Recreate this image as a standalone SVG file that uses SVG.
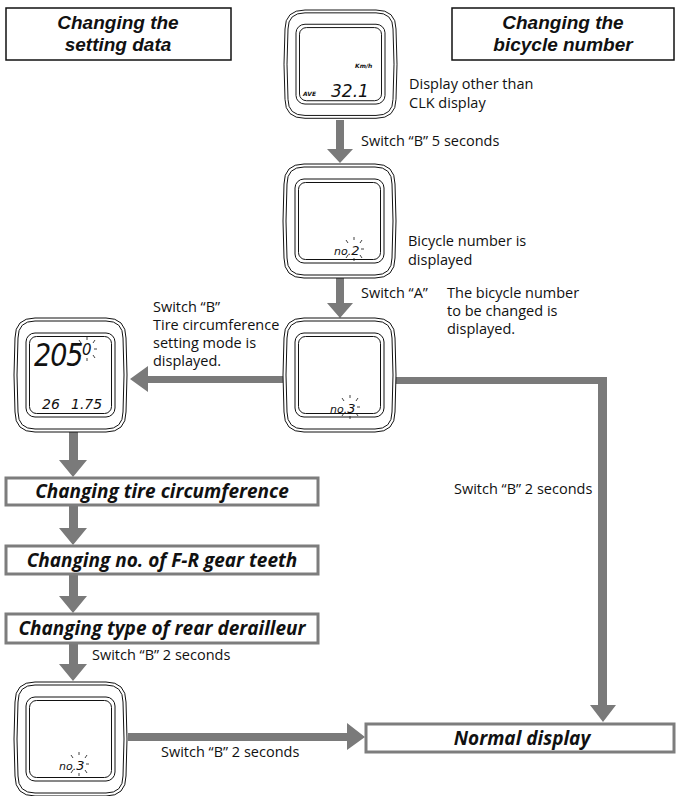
<svg xmlns="http://www.w3.org/2000/svg" width="676" height="796" viewBox="0 0 676 796">
<style>
.bg{fill:#fff}
.t{font-family:"Open Sans","Noto Sans","DejaVu Sans",sans-serif;font-size:14.5px;fill:#111}
.h{font-family:"Open Sans","Noto Sans","DejaVu Sans",sans-serif;font-size:19px;font-weight:bold;font-style:italic;fill:#111;text-anchor:middle}
.hh{font-family:"Liberation Sans",Arial,sans-serif;font-size:19px}
.hb{fill:#fff;stroke:#111;stroke-width:1.5}
.fb{fill:#fff;stroke:#7d7d7d;stroke-width:3}
.dev{fill:#fff;stroke:#111;stroke-width:1}
.devn{fill:none;stroke:#111;stroke-width:1}
.lcd{font-family:"DejaVu Sans","Liberation Sans",sans-serif;font-style:italic;fill:#111}
.ray{stroke:#111;stroke-width:0.8}
.arr{fill:#7a7a7a}
</style>
<defs>
<g id="frame">
<path class="dev" d="M20,0 H91 Q111,0 111,20 Q113,57 111,94 Q111,114 91,114 H20 Q0,114 0,94 Q-2,57 0,20 Q0,0 20,0 Z"/>
<path class="devn" d="M20,3 H91 Q108,3 108,20 Q110,57 108,94 Q108,111 91,111 H20 Q3,111 3,94 Q1,57 3,20 Q3,3 20,3 Z"/>
<rect class="devn" x="11" y="15" width="89" height="84" rx="9"/>
<rect class="devn" x="14.5" y="18.5" width="82" height="77" rx="7"/>
</g>
<g id="rays">
<line class="ray" x1="0" y1="-9" x2="0" y2="-12"/>
<line class="ray" x1="6" y1="-6" x2="8" y2="-9"/>
<line class="ray" x1="-6" y1="-6" x2="-8" y2="-9"/>
<line class="ray" x1="7" y1="0" x2="10" y2="0"/>
<line class="ray" x1="6" y1="6" x2="8" y2="9"/>
<line class="ray" x1="-6" y1="6" x2="-8" y2="9"/>
<line class="ray" x1="0" y1="9" x2="0" y2="12"/>
</g>
</defs>
<rect class="bg" x="0" y="0" width="676" height="796"/>

<g id="hdr-left">
<rect class="hb" x="6" y="8" width="225" height="52"/>
<text class="h hh" x="118" y="29">Changing the<tspan x="118" dy="22">setting data</tspan></text>
</g>
<g id="hdr-right">
<rect class="hb" x="452" y="8" width="222" height="52"/>
<text class="h hh" x="563" y="29">Changing the<tspan x="563" dy="22">bicycle number</tspan></text>
</g>

<g id="connectors">
<polygon class="arr" points="336,120 344,120 344,149 353,149 340,163 327,149 336,149"/>
<polygon class="arr" points="336,278 344,278 344,303 353,303 340,318 327,303 336,303"/>
<polygon class="arr" points="283,376 148,376 148,366 130,379 148,392 148,383 283,383"/>
<polygon class="arr" points="395,377 607,377 607,705 616,705 603,722 590,705 598,705 598,384 395,384"/>
<polygon class="arr" points="69,432 78,432 78,460 87,460 73,477 59,460 69,460"/>
<polygon class="arr" points="69,505 78,505 78,528 87,528 73,545 59,528 69,528"/>
<polygon class="arr" points="69,574 78,574 78,596 87,596 73,613 59,596 69,596"/>
<polygon class="arr" points="69,643 78,643 78,664 87,664 73,681 59,664 69,664"/>
<polygon class="arr" points="128,733 347,733 347,723 365,737 347,750 347,741 128,741"/>
<text class="t" x="361" y="146">Switch “B” 5 seconds</text>
<text class="t" x="361" y="298">Switch “A”</text>
<text class="t" x="153" y="312">Switch “B”</text>
<text class="t" x="153" y="330">Tire circumference</text>
<text class="t" x="153" y="348">setting mode is</text>
<text class="t" x="153" y="366">displayed.</text>
<text class="t" x="454" y="494">Switch “B” 2 seconds</text>
<text class="t" x="92" y="660">Switch “B” 2 seconds</text>
<text class="t" x="161" y="757">Switch “B” 2 seconds</text>
</g>

<g id="dev-clk">
<g transform="translate(285,10) scale(1,0.95)"><use href="#frame"/></g>
<text class="lcd" x="355" y="68" font-size="6" font-weight="bold">Km/h</text>
<text class="lcd" x="303" y="96" font-size="6" font-weight="bold">AVE</text>
<text class="lcd" x="331" y="97" font-size="17">32.1</text>
<text class="t" x="409" y="89">Display other than</text>
<text class="t" x="409" y="108">CLK display</text>
</g>

<g id="dev-no2">
<use href="#frame" x="284" y="164"/>
<text class="lcd" x="334" y="255" font-size="11">no.<tspan font-size="13">2</tspan></text>
<use href="#rays" x="354" y="249"/>
<text class="t" x="408" y="246">Bicycle number is</text>
<text class="t" x="408" y="265">displayed</text>
</g>

<g id="dev-no3">
<use href="#frame" x="284" y="318"/>
<text class="lcd" x="330" y="413" font-size="11">no.<tspan font-size="13">3</tspan></text>
<use href="#rays" x="350" y="407"/>
<text class="t" x="447" y="298">The bicycle number</text>
<text class="t" x="447" y="316">to be changed is</text>
<text class="t" x="447" y="334">displayed.</text>
</g>

<g id="dev-tire">
<use href="#frame" x="15" y="318"/>
<text class="lcd" transform="translate(34,366) scale(1,1.15)" font-size="27" letter-spacing="-1">205</text>
<text class="lcd" x="82" y="355" font-size="15">0</text>
<use href="#rays" x="87" y="349"/>
<text class="lcd" x="42" y="409" font-size="14">26</text>
<text class="lcd" x="71" y="409" font-size="14">1.75</text>
</g>

<g id="box-tire">
<rect class="fb" x="6" y="478" width="312" height="27"/>
<text class="h" x="162" y="498">Changing tire circumference</text>
</g>
<g id="box-gear">
<rect class="fb" x="6" y="546" width="312" height="28"/>
<text class="h" x="162" y="567">Changing no. of F-R gear teeth</text>
</g>
<g id="box-rd">
<rect class="fb" x="6" y="614" width="312" height="29"/>
<text class="h" x="162" y="635">Changing type of rear derailleur</text>
</g>

<g id="dev-bottom">
<use href="#frame" x="15" y="682"/>
<text class="lcd" x="59" y="770" font-size="11">no.<tspan font-size="13">3</tspan></text>
<use href="#rays" x="79" y="764"/>
</g>

<g id="box-normal">
<rect class="fb" x="366" y="724" width="308" height="28"/>
<text class="h" x="522" y="745">Normal display</text>
</g>
</svg>
